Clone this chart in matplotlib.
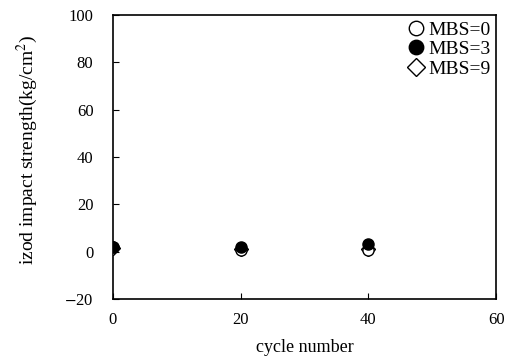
import matplotlib
matplotlib.use('Agg')
import matplotlib.pyplot as plt

plt.rcParams['font.family'] = ['Liberation Serif', 'DejaVu Serif']
plt.rcParams['mathtext.fontset'] = 'stix'

# data
cycles = [0, 20, 40]
mbs0 = [2.0, 0.8, 0.8]
mbs3 = [2.2, 2.0, 3.2]
mbs9 = [1.5, 1.0, 1.2]

fig = plt.figure(figsize=(5.13, 3.6), dpi=100)
ax = fig.add_axes([0.220, 0.169, 0.747, 0.789])

ax.plot(cycles, mbs9, linestyle='none', marker='D', markersize=7,
        markerfacecolor='white', markeredgecolor='black', label='MBS=9', zorder=3)
ax.plot(cycles, mbs0, linestyle='none', marker='o', markersize=8,
        markerfacecolor='white', markeredgecolor='black', label='MBS=0', zorder=4)
ax.plot(cycles, mbs3, linestyle='none', marker='o', markersize=8,
        markerfacecolor='black', markeredgecolor='black', label='MBS=3', zorder=5)

ax.set_xlim(0, 60)
ax.set_ylim(-20, 100)
ax.set_xticks([0, 20, 40, 60])
ax.set_yticks([-20, 0, 20, 40, 60, 80, 100])
ax.set_yticklabels(['$-$20', '0', '20', '40', '60', '80', '100'])
ax.tick_params(direction='in', length=4, labelsize=12)
ax.tick_params(axis='y', pad=14)
ax.tick_params(axis='x', pad=9)
for s in ax.spines.values():
    s.set_linewidth(1.2)

ax.set_xlabel('cycle number', fontsize=13, labelpad=8)
ax.set_ylabel('izod impact strength(kg/cm$^2$)', fontsize=14)
ax.yaxis.set_label_coords(-0.19, 0.525)

handles, labels = ax.get_legend_handles_labels()
order = [1, 2, 0]
leg = ax.legend([handles[i] for i in order], [labels[i] for i in order],
                loc='upper right', frameon=False, fontsize=14,
                handletextpad=0.1, borderaxespad=0.1, labelspacing=0.1,
                handlelength=1.0, borderpad=0.2, markerscale=1.3)

fig.savefig('out.png', dpi=100)
